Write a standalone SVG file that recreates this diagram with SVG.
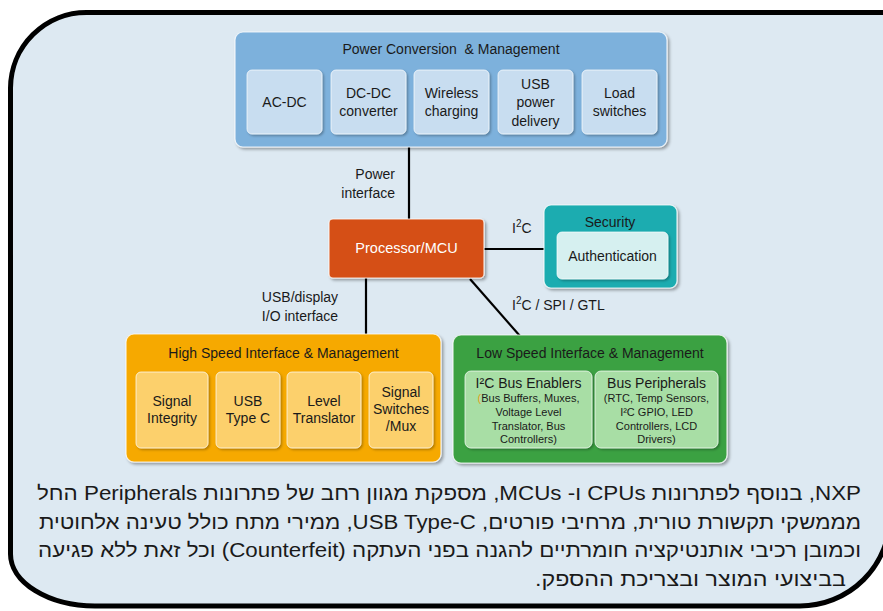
<svg xmlns="http://www.w3.org/2000/svg" width="883" height="611" viewBox="0 0 883 611">
<defs>
<filter id="sh" x="-10%" y="-10%" width="130%" height="130%">
<feDropShadow dx="2" dy="2" stdDeviation="1.5" flood-color="#000" flood-opacity="0.35"/>
</filter>
<filter id="sh2" x="-10%" y="-10%" width="130%" height="130%">
<feDropShadow dx="1.5" dy="1.5" stdDeviation="1.2" flood-color="#000" flood-opacity="0.3"/>
</filter>
</defs>
<style>
text{font-family:"Liberation Sans",Arial,sans-serif;fill:#1a1a1a}
.t14{font-size:14px;text-anchor:middle}
.t11{font-size:11px;text-anchor:middle}
.blk{stroke:#ffffff;stroke-opacity:0.8;stroke-width:1.2}
.sub{stroke:#ffffff;stroke-opacity:0.7;stroke-width:1}
.conn{stroke:#000;stroke-width:2.2;fill:none}
.lbl{font-size:14px}
.heb{font-size:19.5px;direction:rtl;text-anchor:start}
</style>
<rect width="883" height="611" fill="#ffffff"/>
<path id="frame" d="M 10.5,88 A 76 76 0 0 1 86.5,12.5 H 890 V 516 A 90 90 0 0 1 800,606 H 95 A 85 52 0 0 1 10.5,554 Z" fill="#dde9f2" stroke="#000" stroke-width="5"/>

<g id="connectors">
<line class="conn" x1="409" y1="147" x2="409" y2="219"/>
<line class="conn" x1="484" y1="249" x2="544" y2="249"/>
<line class="conn" x1="366" y1="278" x2="366" y2="335"/>
<line class="conn" x1="470" y1="279" x2="520" y2="336"/>
<text class="lbl" x="395" y="179" text-anchor="end">Power</text>
<text class="lbl" x="395" y="198" text-anchor="end">interface</text>
<text class="lbl" x="512" y="233">I<tspan font-size="10" dy="-6">2</tspan><tspan dy="6">C</tspan></text>
<text class="lbl" x="300" y="302" text-anchor="middle">USB/display</text>
<text class="lbl" x="300" y="321" text-anchor="middle">I/O interface</text>
<text class="lbl" x="512" y="310">I<tspan font-size="10" dy="-6">2</tspan><tspan dy="6">C / SPI / GTL</tspan></text>
</g>

<g id="power">
<rect class="blk" x="235" y="32" width="432" height="115" rx="8" fill="#7db1dc" filter="url(#sh)"/>
<text class="t14" x="451" y="54" xml:space="preserve">Power Conversion  &amp; Management</text>
<g id="ac-dc"><rect class="sub" x="247" y="70" width="75" height="64" rx="5" fill="#c8ddf0" filter="url(#sh2)"/>
<text class="t14" x="284.5" y="107">AC-DC</text></g>
<g id="dc-dc"><rect class="sub" x="331" y="70" width="75" height="64" rx="5" fill="#c8ddf0" filter="url(#sh2)"/>
<text class="t14" x="368.5" y="98">DC-DC</text><text class="t14" x="368.5" y="116">converter</text></g>
<g id="wireless"><rect class="sub" x="414" y="70" width="75" height="64" rx="5" fill="#c8ddf0" filter="url(#sh2)"/>
<text class="t14" x="451.5" y="98">Wireless</text><text class="t14" x="451.5" y="116">charging</text></g>
<g id="usbpd"><rect class="sub" x="498" y="70" width="75" height="64" rx="5" fill="#c8ddf0" filter="url(#sh2)"/>
<text class="t14" x="535.5" y="89">USB</text><text class="t14" x="535.5" y="107">power</text><text class="t14" x="535.5" y="126">delivery</text></g>
<g id="load"><rect class="sub" x="582" y="70" width="75" height="64" rx="5" fill="#c8ddf0" filter="url(#sh2)"/>
<text class="t14" x="619.5" y="98">Load</text><text class="t14" x="619.5" y="116">switches</text></g>
</g>

<g id="processor">
<rect class="blk" x="329" y="219" width="155" height="59" rx="4" fill="#d55014" filter="url(#sh)"/>
<text class="t14" x="406.5" y="253" style="fill:#ffffff;font-size:14.5px">Processor/MCU</text>
</g>

<g id="security">
<rect class="blk" x="544" y="205" width="133" height="83" rx="7" fill="#1aacb0" filter="url(#sh)"/>
<text class="t14" x="610" y="227">Security</text>
<rect class="sub" x="557" y="232" width="111" height="47" rx="5" fill="#d6f0f0" filter="url(#sh2)"/>
<text class="t14" x="612.5" y="261">Authentication</text>
</g>

<g id="highspeed">
<rect class="blk" x="126" y="334" width="315" height="128" rx="8" fill="#f6a900" filter="url(#sh)"/>
<text class="t14" x="283.5" y="358">High Speed Interface &amp; Management</text>
<g id="si"><rect class="sub" x="136" y="372" width="72" height="76" rx="5" fill="#fcd06c" filter="url(#sh2)"/>
<text class="t14" x="172" y="406">Signal</text><text class="t14" x="172" y="423">Integrity</text></g>
<g id="usbc"><rect class="sub" x="216" y="372" width="64" height="76" rx="5" fill="#fcd06c" filter="url(#sh2)"/>
<text class="t14" x="248" y="406">USB</text><text class="t14" x="248" y="423">Type C</text></g>
<g id="level"><rect class="sub" x="287" y="372" width="74" height="76" rx="5" fill="#fcd06c" filter="url(#sh2)"/>
<text class="t14" x="324" y="406">Level</text><text class="t14" x="324" y="423">Translator</text></g>
<g id="switches"><rect class="sub" x="369" y="372" width="64" height="76" rx="5" fill="#fcd06c" filter="url(#sh2)"/>
<text class="t14" x="401" y="397">Signal</text><text class="t14" x="401" y="414">Switches</text><text class="t14" x="401" y="431">/Mux</text></g>
</g>

<g id="lowspeed">
<rect class="blk" x="453" y="335" width="274" height="128" rx="8" fill="#3aa143" filter="url(#sh)"/>
<text class="t14" x="590" y="358">Low Speed Interface &amp; Management</text>
<g id="i2c"><rect class="sub" x="465" y="371" width="127" height="77" rx="6" fill="#a8dea5" filter="url(#sh2)"/>
<text class="t14" x="528.5" y="388">I²C Bus Enablers</text>
<text class="t11" x="528.5" y="402"><tspan fill="#e8a020">(</tspan>Bus Buffers, Muxes,</text>
<text class="t11" x="528.5" y="416">Voltage Level</text>
<text class="t11" x="528.5" y="430">Translator, Bus</text>
<text class="t11" x="528.5" y="443">Controllers)</text></g>
<g id="periph"><rect class="sub" x="595" y="371" width="123" height="77" rx="6" fill="#a8dea5" filter="url(#sh2)"/>
<text class="t14" x="656.5" y="388">Bus Peripherals</text>
<text class="t11" x="656.5" y="402">(RTC, Temp Sensors,</text>
<text class="t11" x="656.5" y="416">I²C GPIO, LED</text>
<text class="t11" x="656.5" y="430">Controllers, LCD</text>
<text class="t11" x="656.5" y="443">Drivers)</text></g>
</g>

<g id="description">
<text class="heb" x="861" y="500" textLength="824" lengthAdjust="spacingAndGlyphs">NXP, בנוסף לפתרונות CPUs ו- MCUs, מספקת מגוון רחב של פתרונות Peripherals החל</text>
<text class="heb" x="861" y="529" textLength="822" lengthAdjust="spacingAndGlyphs">מממשקי תקשורת טורית, מרחיבי פורטים, USB Type-C, ממירי מתח כולל טעינה אלחוטית</text>
<text class="heb" x="861" y="557" textLength="823" lengthAdjust="spacingAndGlyphs">וכמובן רכיבי אותנטיקציה חומרתיים להגנה בפני העתקה (Counterfeit) וכל זאת ללא פגיעה</text>
<text class="heb" x="846" y="586" textLength="311" lengthAdjust="spacingAndGlyphs">בביצועי המוצר ובצריכת ההספק.</text>
</g>
</svg>
